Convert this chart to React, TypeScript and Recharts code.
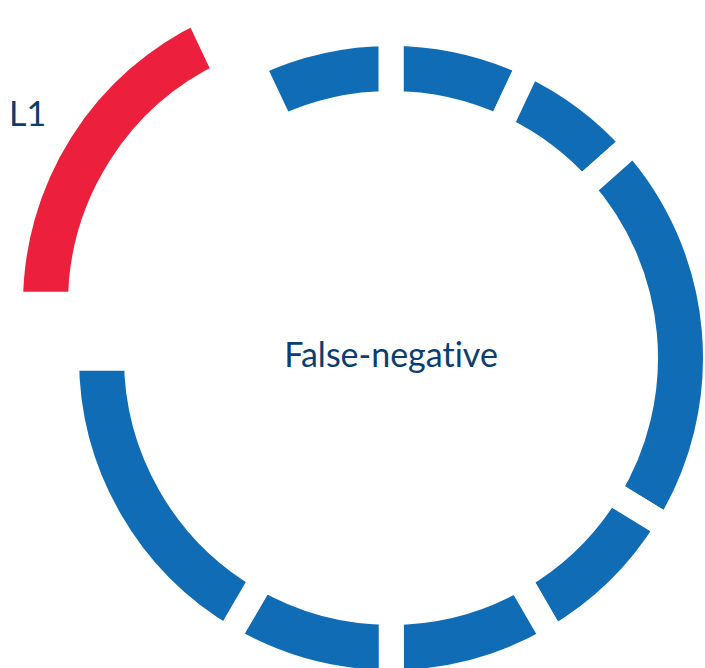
import { PieChart, Pie, Cell, Label } from "recharts";

// ring segments, clockwise from 12 o'clock
const segmentNames = ["S1", "S2", "S3", "S4", "S5", "S6", "S7", "L1", "S9"];
const segmentValues = [25.2, 23.2, 73.0, 28.5, 30.0, 30.3, 59.7, 64.7, 25.3];
const highlighted = "L1";
const centerTitle = "False-negative";

const data = segmentNames.map((name, i) => ({ name, value: segmentValues[i] }));

const BLUE = "#116cb6";
const RED = "#ec1f3c";
const TEXT = "#0b3d6f";
const FONT = "Lato, 'Noto Sans', sans-serif";
const RAD = Math.PI / 180;

const CX = 391;
const CY = 358;
const GAP = 25; // white stroke that cuts the gaps between segments
const INNER = 267 - GAP / 2;
const OUTER = 312 + GAP / 2;

const renderHighlightLabel = (props: any) => {
  if (props.name !== highlighted) return null;
  const r = props.outerRadius + 37;
  const x = props.cx + r * Math.cos(-props.midAngle * RAD);
  const y = props.cy + r * Math.sin(-props.midAngle * RAD);
  return (
    <text
      x={x - 2}
      y={y + 3}
      dy="0.36em"
      textAnchor="middle"
      fill={TEXT}
      fontFamily={FONT}
      fontSize={34}
      style={{ fontVariantLigatures: "none" }}
    >
      {props.name}
    </text>
  );
};

export default function App() {
  return (
    <div style={{ position: "absolute", left: 0, top: 0, width: 705, height: 668 }}>
      <PieChart width={705} height={668} margin={{ top: 0, right: 0, bottom: 0, left: 0 }}>
        <Pie
          data={data}
          dataKey="value"
          nameKey="name"
          cx={CX}
          cy={CY}
          innerRadius={INNER}
          outerRadius={OUTER}
          startAngle={90}
          endAngle={-270}
          paddingAngle={0}
          stroke="#fff"
          strokeWidth={GAP}
          isAnimationActive={false}
        >
          {data.map((d) => (
            <Cell
              key={d.name}
              fill={d.name === highlighted ? "none" : BLUE}
              stroke={d.name === highlighted ? "none" : "#fff"}
            />
          ))}
          <Label
            position="center"
            content={() => (
              <text
                x={CX}
                y={CY - 3}
                dy="0.36em"
                textAnchor="middle"
                fill={TEXT}
                fontFamily={FONT}
                fontSize={34}
                style={{ fontVariantLigatures: "none" }}
              >
                {centerTitle}
              </text>
            )}
          />
        </Pie>
        {/* exploded highlight segment */}
        <Pie
          data={data}
          dataKey="value"
          nameKey="name"
          cx={335}
          cy={304}
          innerRadius={INNER}
          outerRadius={OUTER}
          startAngle={90}
          endAngle={-270}
          paddingAngle={0}
          strokeWidth={GAP}
          label={renderHighlightLabel}
          labelLine={false}
          isAnimationActive={false}
        >
          {data.map((d) => (
            <Cell
              key={d.name}
              fill={d.name === highlighted ? RED : "none"}
              stroke={d.name === highlighted ? "#fff" : "none"}
            />
          ))}
        </Pie>
      </PieChart>
    </div>
  );
}
